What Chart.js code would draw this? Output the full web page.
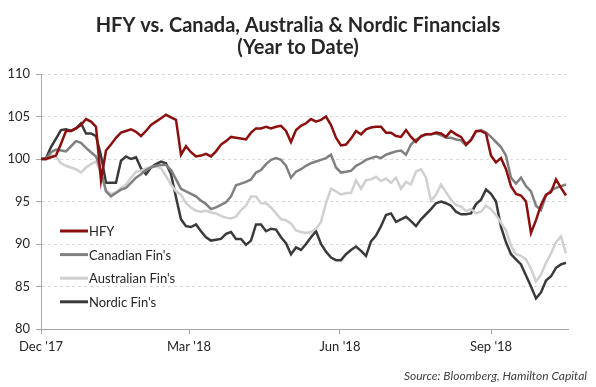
<!DOCTYPE html>
<html>
<head>
<meta charset="utf-8">
<script src="https://cdn.jsdelivr.net/npm/chart.js@4.4.1/dist/chart.umd.min.js"></script>
<style>
  html, body { margin: 0; padding: 0; background: #fff; }
  #wrap { width: 596px; height: 387px; }
</style>
</head>
<body>
<div id="wrap"><canvas id="chart" width="596" height="387"></canvas></div>
<script>
// HFY vs. Canada, Australia & Nordic Financials (YTD), indexed to 100
// values sampled every ~3 days from the reference picture

const seriesNames = ["HFY", "Canadian Fin's", "Australian Fin's", "Nordic Fin's"];

const hfy = [
  100.0, 100.0, 100.2, 100.4, 101.8, 103.3, 103.3, 103.6, 104.0, 104.7,
  104.4, 103.8, 97.5, 101.0, 101.7, 102.5, 103.1, 103.3, 103.5, 103.2,
  102.7, 103.3, 104.0, 104.4, 104.8, 105.2, 104.9, 104.6, 100.5, 101.5,
  100.8, 100.3, 100.4, 100.6, 100.3, 100.9, 101.7, 102.1, 102.6, 102.5,
  102.4, 102.3, 103.1, 103.6, 103.6, 103.8, 103.6, 103.8, 103.9, 103.3,
  102.0, 103.4, 103.9, 104.2, 104.7, 104.4, 104.6, 105.0, 104.0, 102.5,
  101.6, 101.7, 102.4, 103.3, 102.9, 103.5, 103.7, 103.8, 103.8, 103.1,
  103.1, 102.7, 102.6, 103.4, 102.6, 102.0, 102.7, 102.9, 102.9, 103.1,
  103.0, 102.6, 103.3, 102.9, 102.6, 101.7, 102.2, 103.3, 103.3, 103.0,
  100.4, 99.6, 100.1, 98.8, 96.8, 95.9, 95.7, 95.0, 91.3, 92.8,
  94.6, 95.8, 96.1, 97.6, 96.6, 95.7
];

const canadian = [
  100.0, 100.0, 100.8, 101.1, 101.0, 100.9, 101.5, 102.1, 101.9, 101.3,
  100.8, 100.3, 98.6, 96.2, 95.6, 96.0, 96.4, 96.6, 97.2, 97.8,
  98.2, 98.7, 99.0, 99.2, 99.3, 99.3, 98.7, 97.6, 96.5, 96.2,
  95.9, 95.6, 95.1, 94.7, 94.1, 94.3, 94.6, 94.9, 95.6, 96.9,
  97.1, 97.3, 97.6, 98.4, 98.7, 99.4, 99.9, 100.1, 99.9, 99.2,
  97.8, 98.5, 98.8, 99.2, 99.5, 99.7, 99.9, 100.1, 100.5, 99.0,
  98.4, 98.5, 98.6, 99.2, 99.5, 99.9, 100.1, 100.3, 100.1, 100.5,
  100.7, 100.9, 101.0, 100.5, 101.7, 102.3, 102.6, 102.9, 102.9, 103.0,
  102.8, 102.5, 102.5, 102.3, 102.2, 101.6, 102.3, 103.2, 103.4, 103.1,
  102.6, 102.0, 101.4, 100.4, 97.8, 97.1, 97.8, 96.8, 96.2, 94.5,
  94.0, 95.7, 96.3, 96.6, 96.8, 97.0
];

const australian = [
  100.0, 99.9, 100.5, 100.3, 99.5, 99.2, 99.0, 98.8, 98.4, 99.0,
  99.4, 99.7, 98.3, 96.3, 95.9, 96.1, 96.6, 97.0, 97.8, 98.5,
  98.6, 98.9, 99.1, 99.1, 98.9, 98.0, 97.0, 96.2, 95.8, 94.8,
  94.3, 93.9, 93.8, 93.9, 93.7, 93.6, 93.3, 93.1, 93.0, 93.2,
  94.0, 94.5, 95.6, 95.6, 94.8, 94.8, 94.3, 93.6, 92.9, 92.8,
  92.4, 91.6, 91.4, 91.3, 91.4, 91.8, 92.6, 94.8, 96.5, 96.2,
  95.8, 96.0, 96.0, 97.5, 96.5, 97.5, 97.6, 97.9, 97.4, 97.7,
  97.2, 97.8, 96.5, 97.3, 97.0, 98.5, 98.8, 97.8, 95.1, 95.8,
  97.0, 96.1, 95.2, 94.6, 94.4, 93.9, 94.1, 93.6, 93.8, 94.5,
  94.1, 93.4, 92.5, 91.6, 89.8, 88.8, 88.6, 88.2, 87.1, 85.6,
  86.4, 87.8, 88.9, 90.2, 90.9, 88.9
];

const nordic = [
  100.0, 100.1, 101.4, 102.4, 103.4, 103.5, 103.3, 103.6, 104.2, 103.0,
  103.0, 102.7, 100.4, 97.2, 97.2, 97.2, 99.8, 100.3, 100.0, 100.2,
  98.9, 98.2, 99.0, 99.4, 99.7, 99.5, 98.2, 95.5, 92.9, 92.1,
  92.0, 92.3, 91.5, 90.8, 90.4, 90.5, 90.6, 91.2, 91.4, 90.6,
  90.6, 89.9, 90.4, 92.3, 92.3, 91.5, 91.8, 91.7, 90.8, 90.1,
  88.8, 89.6, 89.3, 90.0, 90.8, 91.5, 90.0, 89.1, 88.4, 88.1,
  88.1, 88.8, 89.3, 89.7, 89.2, 88.6, 90.3, 91.0, 92.1, 93.4,
  93.6, 92.6, 92.9, 93.2, 92.7, 92.1, 92.9, 93.5, 94.1, 94.8,
  95.0, 94.8, 94.5, 93.8, 93.5, 93.5, 93.6, 94.7, 95.2, 96.4,
  95.9, 95.0, 92.0, 90.2, 88.8, 88.2, 87.6, 86.3, 85.0, 83.6,
  84.3, 85.7, 86.2, 87.2, 87.6, 87.8
];

// month labels and the sample step each one falls on
const tickLabels = ["Dec '17", "Mar '18", "Jun '18", "Sep '18"];
const tickSteps = [0, 29.6, 59.8, 90];
const lastStep = 105.4;

const lineColors = ['#8c0f0f', '#808080', '#d0d0d0', '#3a3a3a'];
const FONT = 'Lato, "Open Sans", sans-serif';

function toPoints(arr) {
  return arr.map((v, i) => ({ x: i, y: v }));
}

// title, source note and the in-plot legend
const decorations = {
  id: 'decorations',
  afterDraw(chart) {
    const ctx = chart.ctx;
    ctx.save();
    ctx.fillStyle = '#262626';
    ctx.textAlign = 'center';
    ctx.textBaseline = 'alphabetic';
    ctx.font = 'bold 20px ' + FONT;
    ctx.fillText('HFY vs. Canada, Australia & Nordic Financials', 298, 32);
    ctx.fillText('(Year to Date)', 298, 54);

    ctx.font = 'italic 12px ' + FONT;
    ctx.textAlign = 'right';
    ctx.fillStyle = '#404040';
    ctx.fillText('Source: Bloomberg, Hamilton Capital', 587, 380);

    // legend
    ctx.textAlign = 'left';
    ctx.textBaseline = 'middle';
    ctx.font = '13px ' + FONT;
    chart.data.datasets.forEach((ds, i) => {
      const y = 231 + i * 23.6;
      ctx.strokeStyle = ds.borderColor;
      ctx.lineWidth = 3;
      ctx.beginPath();
      ctx.moveTo(60, y);
      ctx.lineTo(88, y);
      ctx.stroke();
      ctx.fillStyle = '#262626';
      ctx.fillText(ds.label, 89, y + 1);
    });
    ctx.restore();
  }
};

new Chart(document.getElementById('chart'), {
  type: 'line',
  data: {
    datasets: [hfy, canadian, australian, nordic].map((arr, i) => ({
      label: seriesNames[i],
      data: toPoints(arr),
      borderColor: lineColors[i],
      backgroundColor: lineColors[i],
      borderWidth: 2.5,
      pointRadius: 0,
      tension: 0
    }))
  },
  options: {
    responsive: false,
    animation: false,
    devicePixelRatio: 1,
    layout: { padding: { top: 74, right: 28, bottom: 0, left: 0 } },
    plugins: {
      legend: { display: false },
      title: { display: false },
      tooltip: { enabled: false }
    },
    scales: {
      x: {
        type: 'linear',
        min: 0,
        max: lastStep,
        afterBuildTicks: scale => { scale.ticks = tickSteps.map(v => ({ value: v })); },
        afterFit: scale => { scale.height = 58; },
        ticks: {
          callback: (v, i) => tickLabels[i],
          autoSkip: false,
          maxRotation: 0,
          padding: 5,
          color: '#262626',
          font: { family: FONT, size: 13 }
        },
        grid: { drawOnChartArea: false, tickLength: 5, tickColor: '#a6a6a6' },
        border: { color: '#a6a6a6', width: 1 }
      },
      y: {
        min: 80,
        max: 110,
        afterFit: scale => { scale.width = 41; },
        ticks: {
          stepSize: 5,
          padding: 6,
          color: '#262626',
          font: { family: FONT, size: 13 }
        },
        grid: { color: '#d9d9d9', tickColor: '#a6a6a6', tickLength: 5 },
        border: { color: '#a6a6a6', width: 1, dash: [3, 3] }
      }
    }
  },
  plugins: [decorations]
});
</script>
</body>
</html>
